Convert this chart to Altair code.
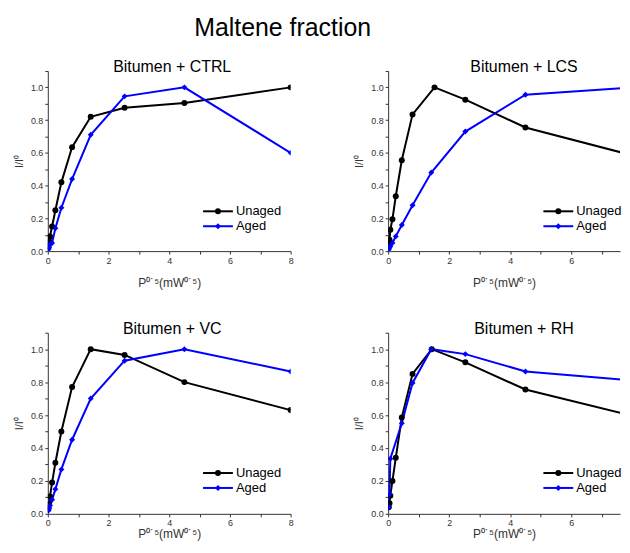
import altair as alt
import pandas as pd

# ---------------- data ----------------
panels = ["Bitumen + CTRL", "Bitumen + LCS", "Bitumen + VC", "Bitumen + RH"]
series_names = ["Unaged", "Aged"]

ctrl_x = [0.022, 0.045, 0.071, 0.141, 0.25, 0.447, 0.8, 1.414, 2.53, 4.5, 8.0]
ctrl_unaged = [0.03, 0.06, 0.09, 0.15, 0.25, 0.42, 0.635, 0.82, 0.875, 0.905, 1.0]
ctrl_aged = [0.01, 0.02, 0.04, 0.05, 0.14, 0.265, 0.44, 0.71, 0.945, 1.0, 0.6]

lcs_x_unaged = [0.022, 0.045, 0.071, 0.141, 0.25, 0.447, 0.8, 1.52, 2.53, 4.5, 8.0]
lcs_unaged = [0.04, 0.07, 0.13, 0.195, 0.335, 0.555, 0.835, 1.0, 0.925, 0.755, 0.585]
lcs_x_aged = [0.022, 0.045, 0.071, 0.141, 0.25, 0.447, 0.8, 1.414, 2.53, 4.5, 8.0]
lcs_aged = [0.01, 0.02, 0.03, 0.05, 0.09, 0.16, 0.28, 0.48, 0.73, 0.955, 1.0]

vc_x = [0.022, 0.045, 0.071, 0.141, 0.25, 0.447, 0.8, 1.414, 2.53, 4.5, 8.0]
vc_unaged = [0.03, 0.06, 0.105, 0.19, 0.31, 0.5, 0.77, 1.0, 0.965, 0.80, 0.63]
vc_aged = [0.02, 0.035, 0.05, 0.085, 0.15, 0.27, 0.45, 0.70, 0.93, 1.0, 0.865]

rh_x_unaged = [0.022, 0.045, 0.071, 0.141, 0.25, 0.447, 0.8, 1.43, 2.53, 4.5, 8.0]
rh_unaged = [0.04, 0.065, 0.11, 0.2, 0.34, 0.585, 0.85, 1.0, 0.92, 0.755, 0.595]
rh_x_aged = [0.022, 0.045, 0.071, 0.447, 0.8, 1.414, 2.53, 4.5, 8.0]
rh_aged = [0.04, 0.12, 0.335, 0.55, 0.795, 1.0, 0.97, 0.865, 0.81]

y_ticks = [0.0, 0.1, 0.2, 0.3, 0.4, 0.5, 0.6, 0.7, 0.8, 0.9, 1.0, 1.1]
x_ticks_full = [0, 1, 2, 3, 4, 5, 6, 7, 8]
x_ticks_cut = [0, 1, 2, 3, 4, 5, 6, 7]

rows = []
def add(panel, series, xs, ys):
    for xv, yv in zip(xs, ys):
        rows.append({"panel": panel, "series": series, "x": xv, "y": yv})

add(panels[0], "Unaged", ctrl_x, ctrl_unaged)
add(panels[0], "Aged", ctrl_x, ctrl_aged)
add(panels[1], "Unaged", lcs_x_unaged, lcs_unaged)
add(panels[1], "Aged", lcs_x_aged, lcs_aged)
add(panels[2], "Unaged", vc_x, vc_unaged)
add(panels[2], "Aged", vc_x, vc_aged)
add(panels[3], "Unaged", rh_x_unaged, rh_unaged)
add(panels[3], "Aged", rh_x_aged, rh_aged)
df = pd.DataFrame(rows)
legend_df = pd.DataFrame({"series": series_names})

FONT = "Liberation Sans"
color_scale = alt.Scale(domain=series_names, range=["#000000", "#0000ff"])
shape_scale = alt.Scale(domain=series_names, range=["circle", "diamond"])


def panel(name, xmax, xticks, w, h, title_dx, xtitle_pad):
    d = df[df["panel"] == name]
    x = alt.X(
        "x:Q",
        scale=alt.Scale(domain=[0, xmax], nice=False, zero=True),
        axis=alt.Axis(
            values=xticks,
            labelExpr="datum.value % 2 == 0 ? datum.label : ''",
            title="P⁰˙⁵(mW⁰˙⁵)",
            titleFontSize=12,
            titlePadding=xtitle_pad,
            tickSize=3,
            labelPadding=2,
            labelFlush=False,
        ),
    )
    y = alt.Y(
        "y:Q",
        scale=alt.Scale(domain=[0, 1.1], nice=False),
        axis=alt.Axis(
            values=y_ticks,
            labelExpr="(round(datum.value*10) % 2 == 0) ? format(datum.value, '.1f') : ''",
            title="I/I⁰",
            titleFontSize=11,
            titlePadding=6,
            tickSize=3,
            labelPadding=2,
        ),
    )
    color = alt.Color("series:N", scale=color_scale, legend=None)
    shape = alt.Shape("series:N", scale=shape_scale, legend=None)
    base = alt.Chart(d)
    lines = base.mark_line(strokeWidth=2, clip=True).encode(
        x=x, y=y, color=color, order=alt.Order("x:Q")
    )
    pts = base.mark_point(filled=True, size=36, opacity=1, clip=True).encode(
        x=x, y=y, color=color, shape=shape
    )
    layers = [lines, pts]
    for i, s in enumerate(series_names):
        ly = 141 + 15 * i
        lb = alt.Chart(legend_df).transform_filter(alt.datum.series == s)
        layers.append(lb.mark_rule(strokeWidth=2).encode(
            x=alt.value(156), x2=alt.value(186), y=alt.value(ly), color=color))
        layers.append(lb.mark_point(filled=True, size=36, opacity=1).encode(
            x=alt.value(171), y=alt.value(ly), color=color, shape=shape))
        layers.append(lb.mark_text(align="left", baseline="middle", fontSize=13,
                                   font=FONT, color="#000").encode(
            x=alt.value(189), y=alt.value(ly), text="series:N"))
    return alt.layer(*layers).properties(
        width=w, height=h,
        title=alt.TitleParams(name, fontSize=16, font=FONT, fontWeight="normal",
                              color="#000", anchor="middle", offset=-5, dx=title_dx),
    )


top = alt.hconcat(
    panel(panels[0], 8, x_ticks_full, 244, 181, 3, 13),
    panel(panels[1], 7.6, x_ticks_cut, 233, 181, 20, 13),
    spacing=60,
)
bottom = alt.hconcat(
    panel(panels[2], 8, x_ticks_full, 244, 182, 3, 1),
    panel(panels[3], 7.6, x_ticks_cut, 233, 182, 20, 1),
    spacing=60,
)

chart = alt.vconcat(top, bottom, spacing=32).properties(
    title=alt.TitleParams("Maltene fraction", fontSize=25, font=FONT,
                          fontWeight="normal", color="#000", anchor="middle",
                          offset=19, dx=-35),
    padding={"left": 5, "top": 6, "right": 0, "bottom": 0},
).configure_view(stroke=None).configure_axis(
    grid=False,
    labelFont=FONT,
    titleFont=FONT,
    labelFontSize=9,
    labelColor="#333",
    titleColor="#333",
    titleFontWeight="normal",
    domainColor="#333",
    tickColor="#333",
)

chart.save("out.html", embed_options={"renderer": "svg", "actions": False})
